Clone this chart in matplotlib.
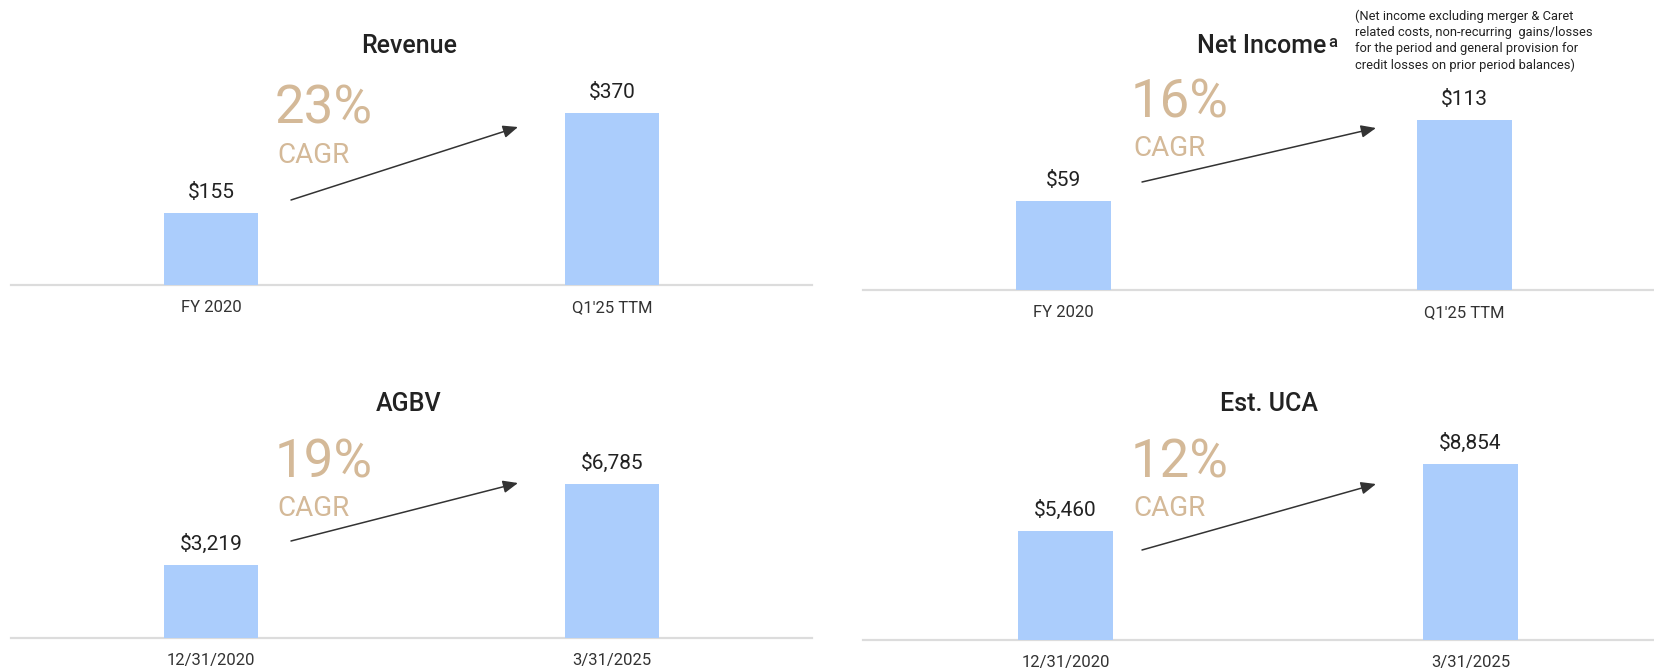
import matplotlib
matplotlib.use("Agg")
import matplotlib.pyplot as plt
from matplotlib.patches import FancyArrowPatch

plt.rcParams['font.family'] = ['Roboto', 'DejaVu Sans']

# ---------------- data ----------------
titles = ["Revenue", "Net Income", "AGBV", "Est. UCA"]
period_labels_top = ["FY 2020", "Q1'25 TTM"]
period_labels_bottom = ["12/31/2020", "3/31/2025"]
revenue = [155, 370]
net_income = [59, 113]
agbv = [3219, 6785]
est_uca = [5460, 8854]
cagr = ["23%", "16%", "19%", "12%"]
value_labels = [["$155", "$370"], ["$59", "$113"], ["$3,219", "$6,785"], ["$5,460", "$8,854"]]
footnote = ("(Net income excluding merger & Caret\n"
            "related costs, non-recurring  gains/losses\n"
            "for the period and general provision for\n"
            "credit losses on prior period balances)")

W, H = 1654, 670
fig = plt.figure(figsize=(W / 100, H / 100), dpi=100)
fig.patch.set_facecolor("white")

BAR = "#ABCDFC"
TAN = "#D4B998"
DARK = "#222222"
LINE = "#DCDCDC"

def fx(px):
    return px / W

def fy(py):
    return 1 - py / H

panels = [
    dict(vals=revenue, labels=period_labels_top, x0=11, x1=812, ly=285, xmax=1.5, top_px=113,
         title_xy=(409, 53), cagr_xy=(278, 123, 163), arrow=((291, 200), (518, 127))),
    dict(vals=net_income, labels=period_labels_top, x0=863, x1=1654, ly=290, xmax=1.4726, top_px=120,
         title_xy=(1197, 53), cagr_xy=(1134, 118, 156), arrow=((1142, 182), (1376, 128))),
    dict(vals=agbv, labels=period_labels_bottom, x0=11, x1=812, ly=638, xmax=1.5, top_px=484,
         title_xy=(409, 411), cagr_xy=(278, 478, 516), arrow=((291, 541), (518, 483))),
    dict(vals=est_uca, labels=period_labels_bottom, x0=863, x1=1654, ly=640, xmax=1.453, top_px=464,
         title_xy=(1269, 411), cagr_xy=(1134, 478, 516), arrow=((1142, 550), (1376, 484))),
]

for i, p in enumerate(panels):
    ax_h_px = 240
    ax = fig.add_axes([fx(p["x0"]), fy(p["ly"]), fx(p["x1"] - p["x0"]), ax_h_px / H])
    vals = p["vals"]
    scale = (p["ly"] - p["top_px"]) / vals[1]  # px per unit
    ax.set_ylim(0, ax_h_px / scale)
    ax.set_xlim(-0.5, p["xmax"])
    xs = list(range(len(vals)))
    ax.bar(xs, vals, width=0.235, color=BAR, zorder=2)
    ax.axhline(0, color=LINE, lw=1.6, zorder=1, clip_on=False)
    for s in ax.spines.values():
        s.set_visible(False)
    ax.set_yticks([])
    ax.set_xticks(xs, p["labels"])
    ax.tick_params(axis="x", length=0, pad=11, labelsize=12, labelcolor="#333333")
    ax.patch.set_alpha(0)
    for x, v, lab in zip(xs, vals, value_labels[i]):
        ax.annotate(lab, (x, v), xytext=(0, 11), textcoords="offset points",
                    ha="center", va="baseline", fontsize=15, color=DARK)

    tx, ty = p["title_xy"]
    if i == 1:
        t = fig.text(fx(tx), fy(ty), titles[i], ha="left", va="baseline",
                     fontsize=18, fontweight="medium", color=DARK)
        ax.annotate("a", xy=(1.0, 1.0), xycoords=t, xytext=(1.2, -0.8), textcoords="offset points",
                    ha="left", va="top", fontsize=12, fontweight="medium", color=DARK,
                    annotation_clip=False)
    else:
        fig.text(fx(tx), fy(ty), titles[i], ha="center", va="baseline",
                 fontsize=18, fontweight="medium", color=DARK)

    cx, cy1, cy2 = p["cagr_xy"]
    fig.text(fx(cx - 3), fy(cy1), cagr[i], ha="left", va="baseline", fontsize=38, color=TAN)
    fig.text(fx(cx - 1), fy(cy2), "CAGR", ha="left", va="baseline", fontsize=20, color=TAN)

    (ax0, ay0), (ax1, ay1) = p["arrow"]
    arr = FancyArrowPatch((fx(ax0), fy(ay0)), (fx(ax1), fy(ay1)), transform=fig.transFigure,
                          arrowstyle="-|>,head_length=0.9,head_width=0.38", mutation_scale=10,
                          color="#333333", lw=1.1, shrinkA=0, shrinkB=0)
    fig.add_artist(arr)

fig.text(fx(1355), fy(10), footnote, ha="left", va="top", fontsize=9.3,
         color=DARK, linespacing=1.3)

fig.savefig("out.png", dpi=100, facecolor="white")
